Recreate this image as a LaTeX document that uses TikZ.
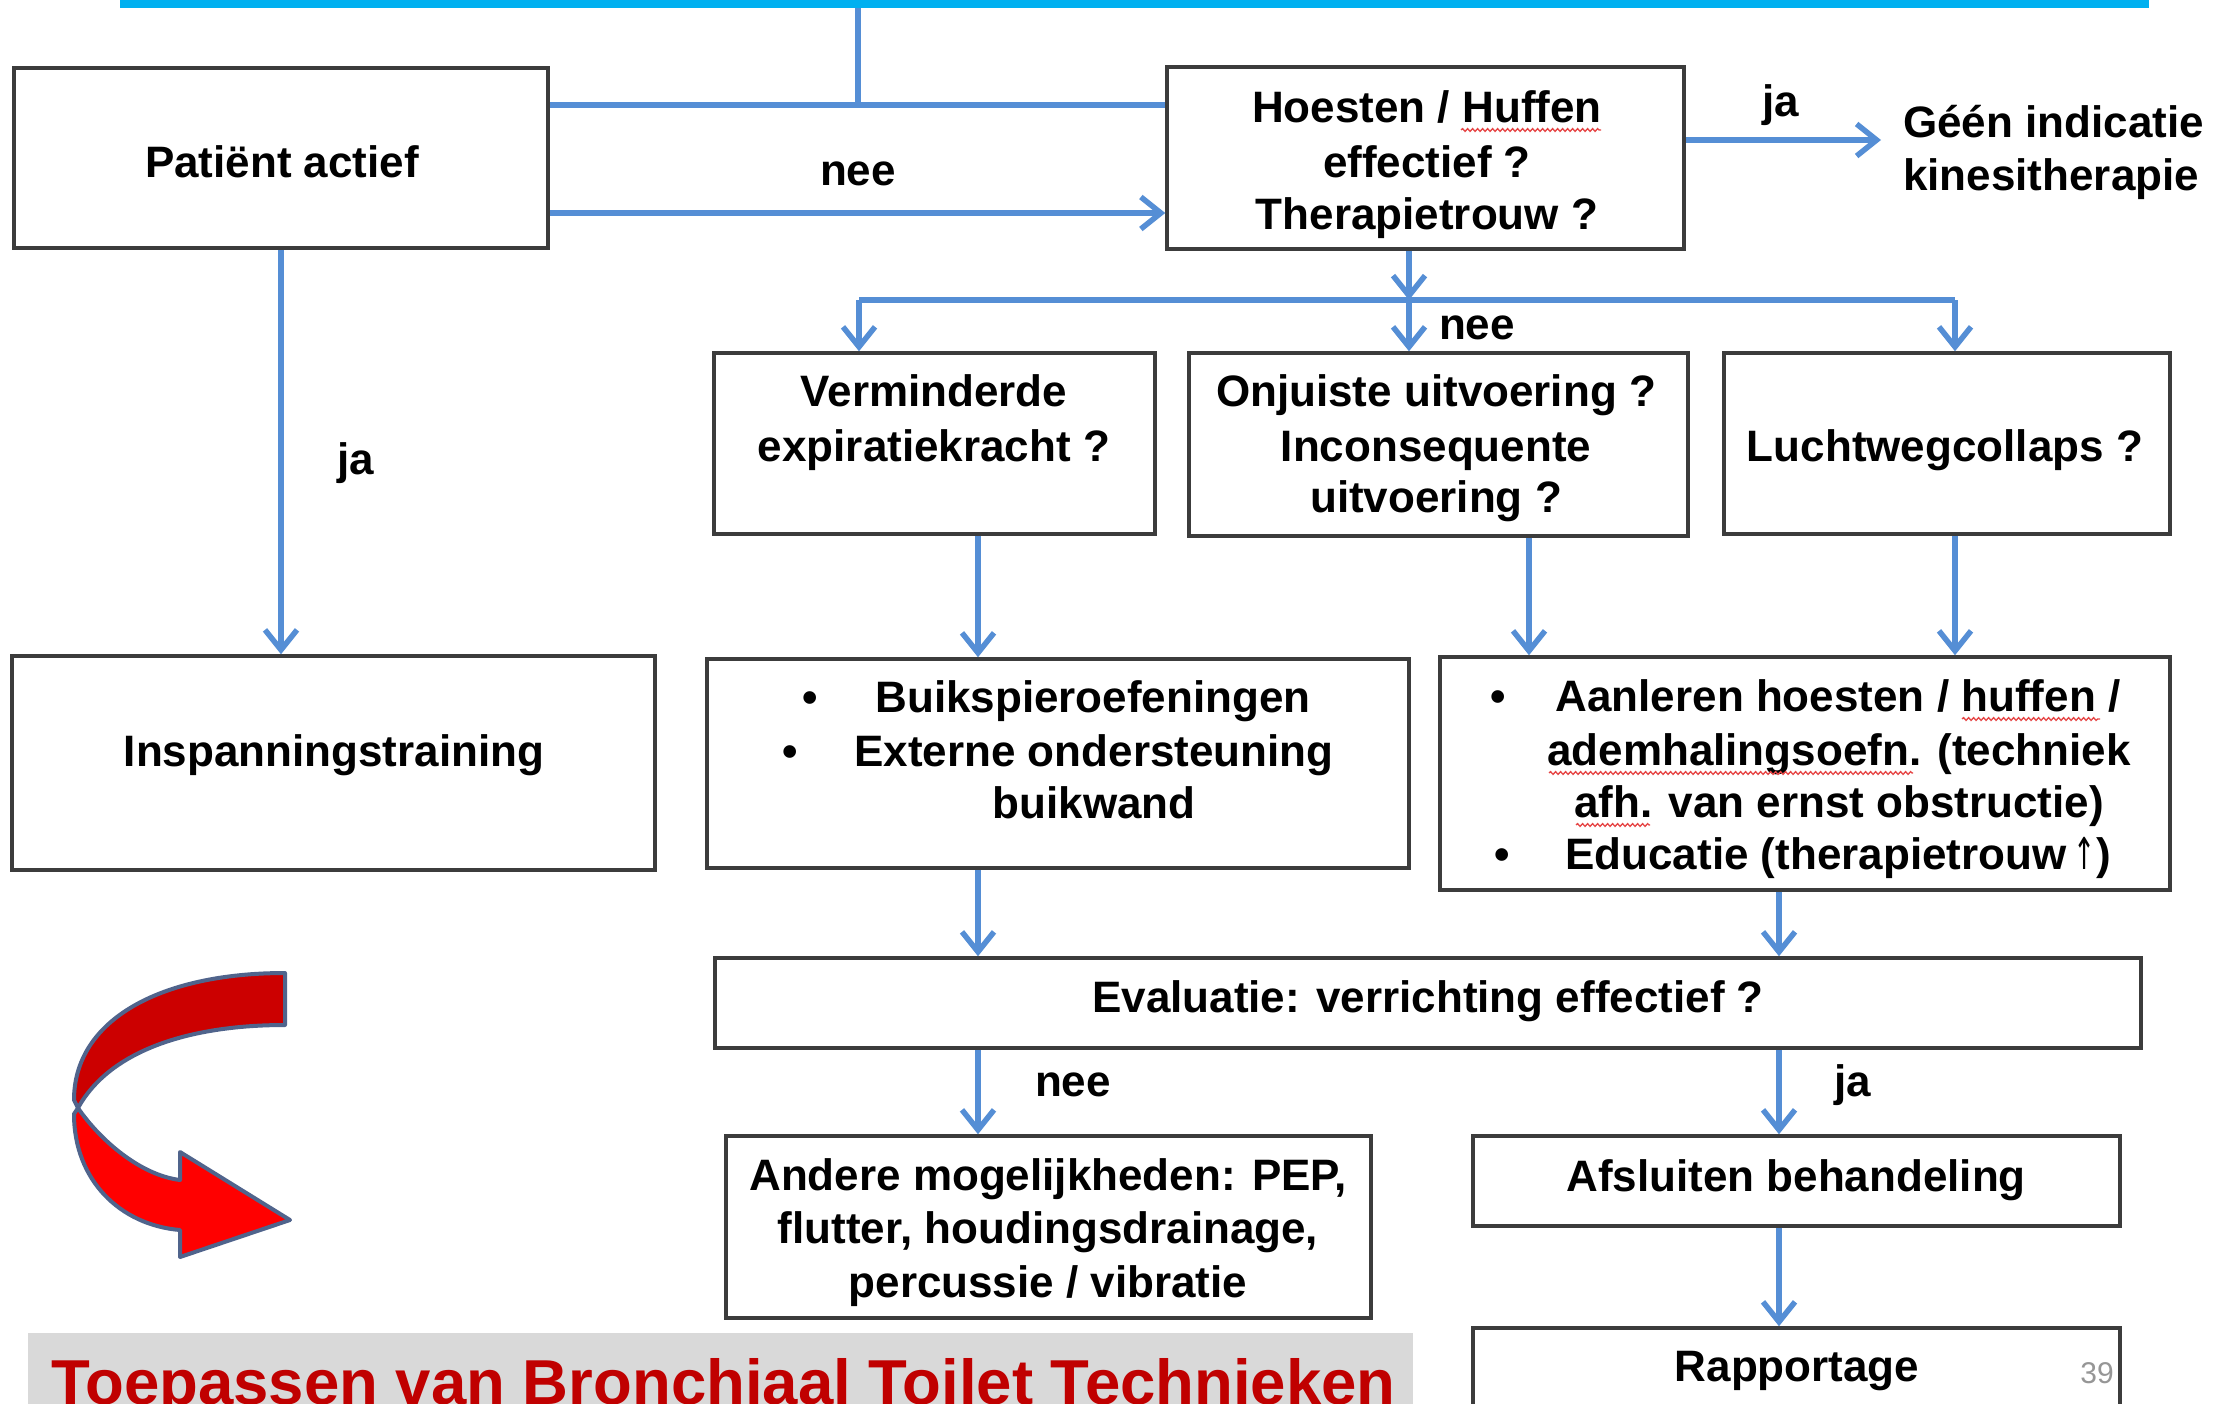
\documentclass[tikz,border=0pt]{standalone}
\usepackage{fontspec}
\setmainfont{Liberation Sans}
\newfontfamily\arrowfont{DejaVu Sans}
\usetikzlibrary{arrows.meta,decorations.pathmorphing}
\definecolor{barblue}{RGB}{0,176,240}
\definecolor{arrblue}{RGB}{85,142,213}
\definecolor{boxc}{RGB}{60,60,60}
\definecolor{titred}{RGB}{192,0,0}
\definecolor{bargray}{RGB}{217,217,217}
\definecolor{darkr}{RGB}{204,0,0}
\definecolor{brightr}{RGB}{255,0,0}
\definecolor{redline}{RGB}{80,100,140}
\definecolor{numgray}{RGB}{150,150,150}
\definecolor{squigc}{RGB}{230,70,70}
\begin{document}
\begin{tikzpicture}[x=1pt,y=-1pt,
  box/.style={draw=boxc,line width=3.5pt,fill=white,inner sep=0pt,rectangle},
  t/.style={font=\fontsize{44}{53}\selectfont\bfseries,inner sep=0pt,anchor=base},
  tl/.style={t,anchor=base west},
  ln/.style={draw=arrblue,line width=5.5pt},
  arr/.style={ln,-{Straight Barb[length=20pt,width=32pt]}},
  squig/.style={draw=squigc,line width=1.3pt,decorate,decoration={snake,amplitude=1.4pt,segment length=5pt}}
]
\useasboundingbox (0,0) rectangle (2214,1403);
\clip (0,0) rectangle (2214,1403);
\fill[white] (0,0) rectangle (2214,1403);

% top bar
\node[fill=barblue,minimum width=2029pt,minimum height=8pt,inner sep=0pt] (bar) at (1134.5,4) {};

% boxes
\node[box,minimum width=534pt,minimum height=180pt] (pat) at (281,158) {};
\node[box,minimum width=517pt,minimum height=182pt] (hoest) at (1425.5,158) {};
\node[box,minimum width=441pt,minimum height=181pt] (verm) at (934.5,443.5) {};
\node[box,minimum width=499pt,minimum height=183pt] (onj) at (1438.5,444.5) {};
\node[box,minimum width=446pt,minimum height=181pt] (lucht) at (1947,443.5) {};
\node[box,minimum width=643pt,minimum height=214pt] (insp) at (333.5,763) {};
\node[box,minimum width=702pt,minimum height=209pt] (buik) at (1058,763.5) {};
\node[box,minimum width=730pt,minimum height=233pt] (aanl) at (1805,773.5) {};
\node[box,minimum width=1426pt,minimum height=90pt] (eval) at (1428,1003) {};
\node[box,minimum width=645pt,minimum height=182pt] (andere) at (1048.5,1227) {};
\node[box,minimum width=647pt,minimum height=90pt] (afsl) at (1796.5,1181) {};
\node[box,minimum width=647pt,minimum height=120pt] (rapp) at (1796.5,1388) {};

% helper coordinates
\coordinate (j1) at (858,105);
\coordinate (ynee) at (0,213);
\coordinate (yja) at (0,140);
\coordinate (geenarr) at (1881,140);
\coordinate (jl) at (859,300);
\coordinate (jm) at (1409,300);
\coordinate (jr) at (1955,300);
\coordinate (x1) at (978,0);
\coordinate (x2) at (1529,0);
\coordinate (x3) at (1779,0);

% connectors
\draw[ln] (j1 |- bar.south) -- (j1);
\draw[ln] (pat.east |- j1) -- (hoest.west |- j1);
\draw[arr] (pat.east |- ynee) -- (hoest.west |- ynee);
\draw[arr] (hoest.east |- yja) -- (geenarr);
\draw[arr] (jm |- hoest.south) -- (jm);
\draw[ln] (jl) -- (jr);
\draw[arr] (jl) -- (jl |- verm.north);
\draw[arr] (jm) -- (jm |- onj.north);
\draw[arr] (jr) -- (jr |- lucht.north);
\draw[arr] (pat.south) -- (pat.south |- insp.north);
\draw[arr] (x1 |- verm.south) -- (x1 |- buik.north);
\draw[arr] (x2 |- onj.south) -- (x2 |- aanl.north);
\draw[arr] (jr |- lucht.south) -- (jr |- aanl.north);
\draw[arr] (x1 |- buik.south) -- (x1 |- eval.north);
\draw[arr] (x3 |- aanl.south) -- (x3 |- eval.north);
\draw[arr] (x1 |- eval.south) -- (x1 |- andere.north);
\draw[arr] (x3 |- eval.south) -- (x3 |- afsl.north);
\draw[arr] (x3 |- afsl.south) -- (x3 |- rapp.north);

% texts
\node[t] (tpat) at (282,177) {Patiënt actief};
\node[t] (th1) at (1427,122) {Hoesten / Huffen};
\node[t] (th2) at (1427,177) {effectief ?};
\node[t] (th3) at (1427,229) {Therapietrouw ?};
\node[t] (lnee1) at (858,185) {nee};
\node[t] (lja1) at (1781,116) {ja};
\node[tl] (tg1) at (1903,137) {Géén indicatie};
\node[tl] (tg2) at (1903,190) {kinesitherapie};
\node[t] (lnee2) at (1477,339) {nee};
\node[t] (lja2) at (356,474) {ja};

\node[t] (tv1) at (934,406) {Verminderde};
\node[t] (tv2) at (934,461) {expiratiekracht ?};
\node[t] (to1) at (1436,406) {Onjuiste uitvoering ?};
\node[t] (to2) at (1436,461) {Inconsequente};
\node[t] (to3) at (1436,512) {uitvoering ?};
\node[t] (tl1) at (1945,461) {Luchtwegcollaps ?};

\node[t] (ti) at (334,766) {Inspanningstraining};

\node[t] (bb1) at (810,712) {•};
\node[t] (tb1) at (1093,712) {Buikspieroefeningen};
\node[t] (bb2) at (790,766) {•};
\node[t] (tb2) at (1094,766) {Externe ondersteuning};
\node[t] (tb3) at (1094,818) {buikwand};

\node[t] (ba1) at (1498,711) {•};
\node[t] (ta1) at (1838,711) {Aanleren hoesten / huffen /};
\node[t] (ta2) at (1839,765) {ademhalingsoefn. (techniek};
\node[t] (ta3) at (1839,817) {afh. van ernst obstructie)};
\node[t] (ba4) at (1502,869) {•};
\node[t] (ta4) at (1838,869) {Educatie (therapietrouw\,{\arrowfont\mdseries\scalebox{0.6}[1]{↑}})};

\node[t] (te) at (1428,1012) {Evaluatie: verrichting effectief ?};
\node[t] (lnee3) at (1073,1096) {nee};
\node[t] (lja3) at (1853,1096) {ja};
\node[t] (tan1) at (1048,1190) {Andere mogelijkheden: PEP,};
\node[t] (tan2) at (1048,1243) {flutter, houdingsdrainage,};
\node[t] (tan3) at (1048,1297) {percussie / vibratie};
\node[t] (taf) at (1796,1191) {Afsluiten behandeling};
\node[t] (tr) at (1797,1381) {Rapportage};
\node[font=\fontsize{30}{34}\selectfont,text=numgray,inner sep=0pt,anchor=base east] (num) at (2114,1383) {39};

% spell-check squiggles
\draw[squig] (1461,130) -- (1601,130);
\draw[squig] (1962,719) -- (2100,719);
\draw[squig] (1549,773) -- (1913,773);
\draw[squig] (1576,825) -- (1650,825);

% bottom title
\node[fill=bargray,minimum width=1385pt,minimum height=90pt,inner sep=0pt] (tbar) at (720.5,1378) {};
\node[font=\fontsize{63.5}{70}\selectfont\bfseries,text=titred,anchor=base west,inner sep=0pt] (title) at (51,1404) {Toepassen van Bronchiaal Toilet Technieken};

% red curved arrow
\filldraw[fill=darkr,draw=redline,line width=4pt,line join=round]
  (285,973) -- (285,1025) .. controls (190,1025) and (110,1050) .. (78,1108)
  -- (74,1100) .. controls (74,1020) and (160,973) .. (285,973) -- cycle;
\filldraw[fill=brightr,draw=redline,line width=4pt,line join=round]
  (78,1108) .. controls (100,1140) and (140,1175) .. (180,1180)
  -- (180,1152) -- (290,1220) -- (180,1257) -- (180,1230)
  .. controls (120,1225) and (74,1180) .. (74,1114) -- cycle;
\end{tikzpicture}
\end{document}
